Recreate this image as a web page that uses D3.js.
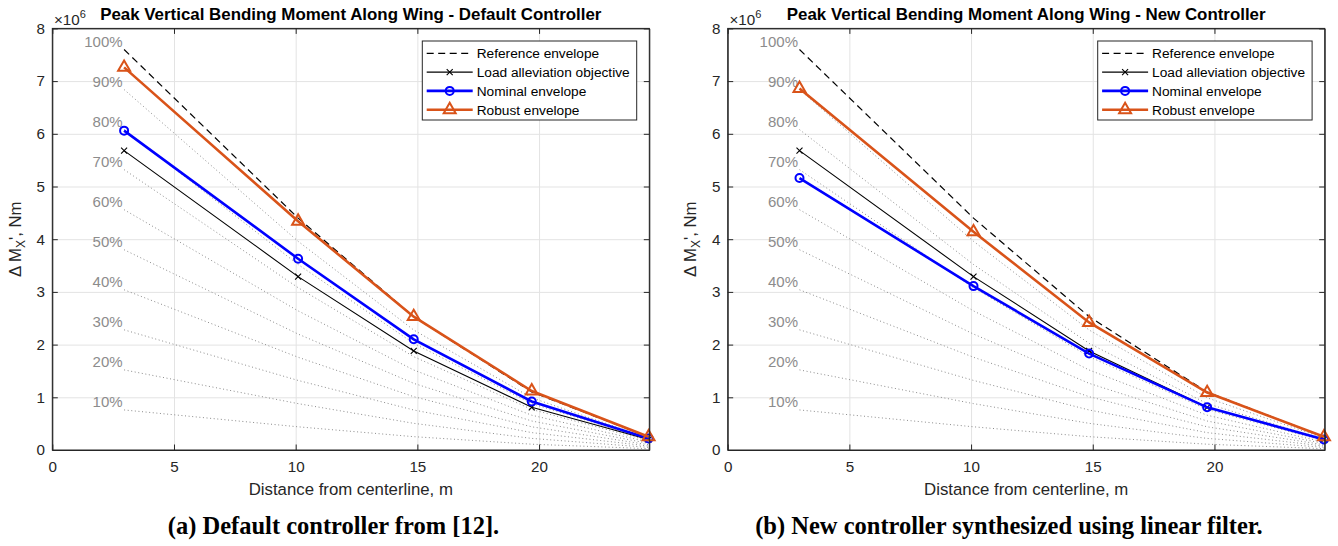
<!DOCTYPE html>
<html lang="en">
<head>
<meta charset="UTF-8">
<script src="https://d3js.org/d3.v7.min.js"></script>
<title>Peak Vertical Bending Moment Along Wing</title>
<style>
  body { margin: 0; background: #fff; }
  svg { font-family: 'Liberation Sans', Arial, sans-serif; }
</style>
</head>
<body>
<div id="wrapper"></div>
<script>
// data (moments in Nm)
const distance = [2.95, 10.1, 14.85, 19.7, 24.5];
const referenceEnvelope = [7.60e6, 4.40e6, 2.53e6, 1.10e6, 0.25e6];
const loadAlleviation = [5.68e6, 3.29e6, 1.88e6, 0.81e6, 0.20e6];
const nominalDefault = [6.06e6, 3.63e6, 2.10e6, 0.92e6, 0.22e6];
const robustDefault = [7.26e6, 4.34e6, 2.53e6, 1.12e6, 0.25e6];
const nominalNew = [5.16e6, 3.11e6, 1.83e6, 0.81e6, 0.20e6];
const robustNew = [6.86e6, 4.14e6, 2.42e6, 1.09e6, 0.25e6];

const percentLevels = [10, 20, 30, 40, 50, 60, 70, 80, 90, 100];
const xTicks = [0, 5, 10, 15, 20];
const yTicks = [0, 1e6, 2e6, 3e6, 4e6, 5e6, 6e6, 7e6, 8e6];
const legendLabels = ["Reference envelope", "Load alleviation objective", "Nominal envelope", "Robust envelope"];
const titles = ["Peak Vertical Bending Moment Along Wing - Default Controller",
                "Peak Vertical Bending Moment Along Wing - New Controller"];
const captions = ["(a) Default controller from [12].", "(b) New controller synthesized using linear filter."];

const axisColor = "#262626";
const orange = "#D95319";
const blue = "#0000FF";

let dimensions = {
  width: 1338,
  height: 546,
  margin: { left: 52.3, top: 28.4 },
  boundedWidth: 597,
  boundedHeight: 421.6,
  panelOffset: 675.4
};

const svg = d3.select("#wrapper").append("svg")
  .attr("width", dimensions.width)
  .attr("height", dimensions.height);

const xScale = d3.scaleLinear().domain([0, 24.53]).range([0, dimensions.boundedWidth]);
const yScale = d3.scaleLinear().domain([0, 8e6]).range([dimensions.boundedHeight, 0]);

const line = d3.line().x((d, i) => xScale(distance[i])).y(d => yScale(d));

function marker(g, type, color) {
  if (type === "circle") {
    g.append("circle").attr("r", 4).attr("fill", "none").attr("stroke", color).attr("stroke-width", 2);
  } else if (type === "triangle") {
    g.append("path").attr("d", d3.symbol(d3.symbolTriangle, 62)()).attr("fill", "none")
      .attr("stroke", color).attr("stroke-width", 2);
  } else if (type === "x") {
    g.append("path").attr("d", "M-3,-3L3,3M-3,3L3,-3").attr("stroke", color).attr("stroke-width", 1.1);
  }
}

function drawPanel(index, nominal, robust) {
  const bounds = svg.append("g")
    .attr("transform", `translate(${dimensions.margin.left + index * dimensions.panelOffset},${dimensions.margin.top})`);
  const w = dimensions.boundedWidth, h = dimensions.boundedHeight;

  // grid
  bounds.append("g").attr("class", "grid").attr("transform", `translate(0,${h})`)
    .call(d3.axisBottom(xScale).tickValues(xTicks.slice(1)).tickSize(-h).tickFormat(""))
    .call(g => g.select(".domain").remove());
  bounds.append("g").attr("class", "grid")
    .call(d3.axisLeft(yScale).tickValues(yTicks.slice(1, -1)).tickSize(-w).tickFormat(""))
    .call(g => g.select(".domain").remove());
  bounds.selectAll(".grid line").attr("stroke", "#e3e3e3");

  // percentage lines of the reference envelope
  percentLevels.forEach(p => {
    const vals = referenceEnvelope.map(v => v * p / 100);
    if (p < 100) {
      bounds.append("path").attr("d", line(vals)).attr("fill", "none")
        .attr("stroke", "#8c8c8c").attr("stroke-width", 1).attr("stroke-dasharray", "1,2.6");
    }
    bounds.append("text")
      .attr("x", xScale(distance[0]) - 1.5)
      .attr("y", yScale(vals[0]) - 2.5)
      .attr("text-anchor", "end")
      .attr("font-size", 15)
      .attr("fill", "#8c8c8c")
      .text(p + "%");
  });

  const series = [
    { vals: referenceEnvelope, color: "black", width: 1.2, dash: "7,4.5", mark: null },
    { vals: loadAlleviation, color: "black", width: 1.1, dash: null, mark: "x" },
    { vals: nominal, color: blue, width: 2.6, dash: null, mark: "circle" },
    { vals: robust, color: orange, width: 2.6, dash: null, mark: "triangle" }
  ];

  series.forEach(s => {
    bounds.append("path").attr("d", line(s.vals)).attr("fill", "none")
      .attr("stroke", s.color).attr("stroke-width", s.width)
      .attr("stroke-dasharray", s.dash);
    if (s.mark) {
      s.vals.forEach((v, i) => {
        const g = bounds.append("g").attr("transform", `translate(${xScale(distance[i])},${yScale(v)})`);
        marker(g, s.mark, s.color);
      });
    }
  });

  // axes, ticks pointing inward
  const axes = bounds.append("g").attr("class", "axes");
  axes.append("g").attr("transform", `translate(0,${h})`)
    .call(d3.axisBottom(xScale).tickValues(xTicks).tickSizeInner(-5.5).tickSizeOuter(0).tickPadding(11.4));
  axes.append("g")
    .call(d3.axisLeft(yScale).tickValues(yTicks).tickSizeInner(-5.5).tickSizeOuter(0).tickPadding(7.3)
      .tickFormat(d => d / 1e6));
  axes.append("g")
    .call(d3.axisTop(xScale).tickValues(xTicks).tickSizeInner(-5.5).tickSizeOuter(0).tickFormat(""));
  axes.append("g").attr("transform", `translate(${w},0)`)
    .call(d3.axisRight(yScale).tickValues(yTicks).tickSizeInner(-5.5).tickSizeOuter(0).tickFormat(""));
  axes.selectAll(".domain, .tick line").attr("stroke", axisColor);
  axes.selectAll(".tick text").attr("fill", axisColor).attr("font-size", 15.2)
    .attr("font-family", "'Liberation Sans', Arial, sans-serif");
  axes.append("rect").attr("width", w).attr("height", h).attr("fill", "none").attr("stroke", axisColor);

  // exponent
  const ex = bounds.append("text").attr("x", 1.7).attr("y", -3.4).attr("font-size", 15.2).attr("fill", axisColor);
  ex.append("tspan").text("×10");
  ex.append("tspan").attr("dy", -7).attr("font-size", 11).text("6");

  // title
  bounds.append("text").attr("x", w / 2).attr("y", -8.3).attr("text-anchor", "middle")
    .attr("font-weight", "bold").attr("font-size", 16.9).attr("fill", "black").text(titles[index]);

  // labels
  bounds.append("text").attr("x", w / 2).attr("y", h + 45.5).attr("text-anchor", "middle")
    .attr("font-size", 16.8).attr("fill", axisColor).text("Distance from centerline, m");
  const yl = bounds.append("text")
    .attr("transform", `translate(${21 - dimensions.margin.left},${h / 2}) rotate(-90)`)
    .attr("text-anchor", "middle").attr("font-size", 16.8).attr("fill", axisColor);
  yl.append("tspan").text("Δ M");
  yl.append("tspan").attr("dy", 4).attr("font-size", 12).text("X");
  yl.append("tspan").attr("dy", -4).text("', Nm");

  // legend
  const lw = 214.4, lh = 79;
  const legend = bounds.append("g").attr("transform", `translate(${w - 12.6 - lw},12.6)`);
  legend.append("rect").attr("width", lw).attr("height", lh).attr("fill", "white").attr("stroke", axisColor);
  series.forEach((s, i) => {
    const yy = 12.3 + i * 18.8;
    legend.append("line").attr("x1", 4.4).attr("x2", 50.4).attr("y1", yy).attr("y2", yy)
      .attr("stroke", s.color).attr("stroke-width", s.width).attr("stroke-dasharray", s.dash);
    if (s.mark) marker(legend.append("g").attr("transform", `translate(27.4,${yy})`), s.mark, s.color);
    legend.append("text").attr("x", 54.4).attr("y", yy + 4.8).attr("font-size", 13.7)
      .attr("fill", "black").text(legendLabels[i]);
  });

  // caption
  svg.append("text").attr("x", 333.5 + index * dimensions.panelOffset).attr("y", 534)
    .attr("text-anchor", "middle").attr("font-family", "'Liberation Serif', 'Times New Roman', serif")
    .attr("font-weight", "bold").attr("font-size", 24.5).attr("fill", "black").text(captions[index]);
}

drawPanel(0, nominalDefault, robustDefault);
drawPanel(1, nominalNew, robustNew);
</script>
</body>
</html>
